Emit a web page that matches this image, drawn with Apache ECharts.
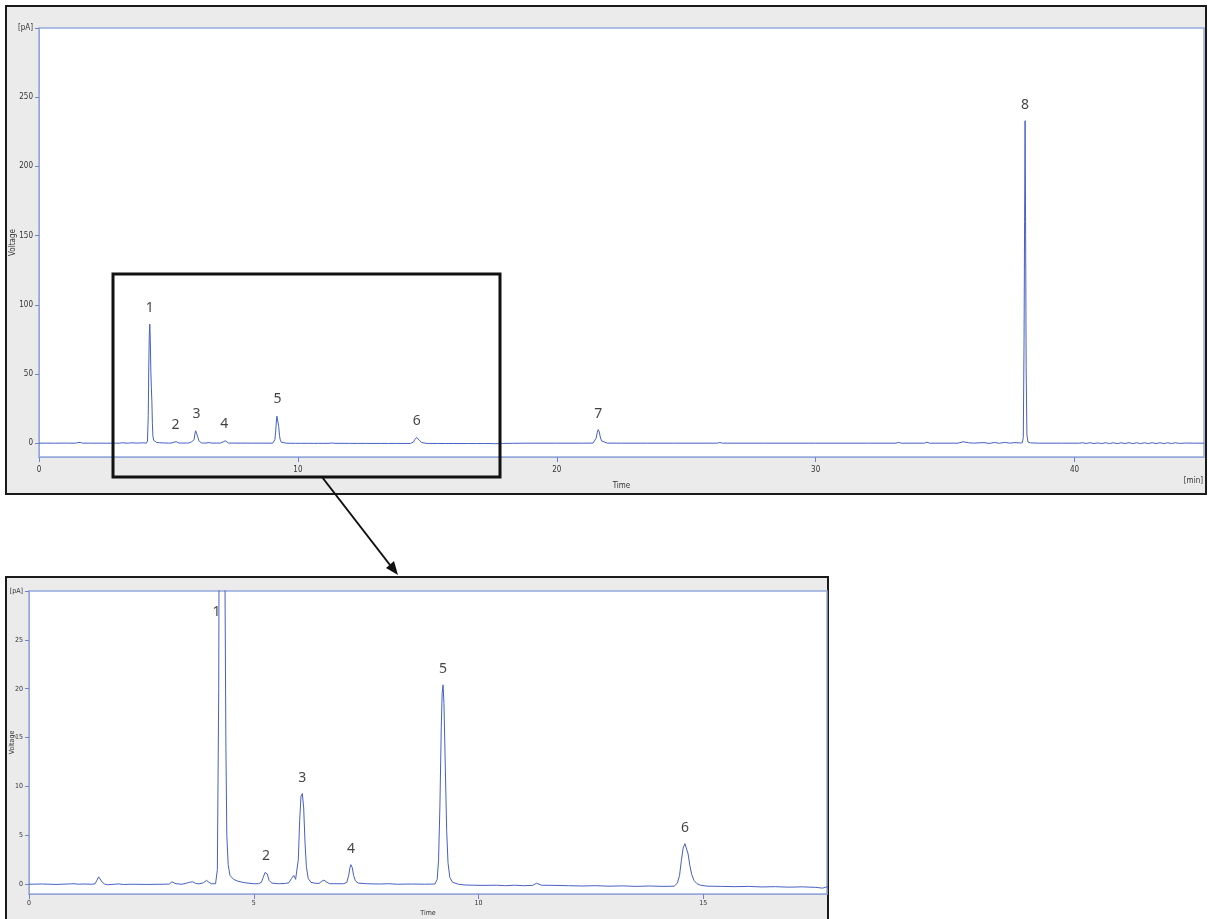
<!DOCTYPE html>
<html>
<head>
<meta charset="utf-8">
<title>Chromatogram</title>
<script src="https://cdn.jsdelivr.net/npm/echarts@6/dist/echarts.min.js"></script>
<style>
  html, body { margin: 0; padding: 0; background: #ffffff; }
  #chart { width: 1208px; height: 919px; }
</style>
</head>
<body>
<div id="chart"></div>
<script>
// Detector trace: [retention time (min), signal (pA)]
const trace = [
  [0.00, 0], [0.30, 0.02], [0.60, -0.02], [0.90, 0.03], [1.00, 0.05], [1.10, 0], [1.20, 0.02], [1.40, 0],
  [1.47, 0.05], [1.51, 0.4], [1.55, 0.75], [1.59, 0.55], [1.63, 0.2], [1.68, 0.02], [1.75, -0.05],
  [1.90, 0], [2.00, 0.03], [2.10, -0.03], [2.25, 0], [2.60, -0.02], [3.00, 0],
  [3.12, 0.02], [3.18, 0.25], [3.22, 0.3], [3.27, 0.05], [3.40, 0], [3.50, 0.1], [3.57, 0.2], [3.64, 0.25],
  [3.70, 0.1], [3.78, 0.03], [3.88, 0.15], [3.95, 0.4], [4.00, 0.2], [4.06, 0.05], [4.15, 0.05],
  [4.19, 1.5], [4.22, 20], [4.24, 55], [4.26, 78], [4.28, 86], [4.30, 74], [4.32, 52], [4.34, 40],
  [4.36, 30], [4.38, 14], [4.40, 5], [4.43, 2], [4.47, 0.9], [4.55, 0.5], [4.65, 0.3], [4.80, 0.15], [5.00, 0.05],
  [5.10, 0.05], [5.17, 0.2], [5.21, 0.7], [5.25, 1.2], [5.27, 1.3], [5.30, 1.05], [5.34, 0.4], [5.40, 0.12],
  [5.55, 0.05], [5.70, 0.08], [5.78, 0.15], [5.84, 0.6], [5.89, 0.9], [5.93, 0.5], [5.96, 0.4],
  [5.99, 2.5], [6.02, 6.5], [6.05, 9.0], [6.08, 9.28], [6.11, 7.8], [6.14, 4.2], [6.17, 1.8], [6.21, 0.6],
  [6.27, 0.2], [6.36, 0.1], [6.45, 0.08], [6.51, 0.3], [6.56, 0.42], [6.61, 0.25], [6.68, 0.06], [6.85, 0.05],
  [7.00, 0.05], [7.07, 0.2], [7.11, 0.9], [7.14, 1.7], [7.16, 2.0], [7.19, 1.7], [7.22, 0.9], [7.26, 0.35],
  [7.32, 0.12], [7.50, 0.05], [7.80, 0.02], [8.00, 0.05], [8.20, 0], [8.50, 0.02], [8.80, 0], [9.03, 0.02],
  [9.08, 0.5], [9.11, 2.5], [9.14, 8], [9.17, 16], [9.19, 19.5], [9.21, 20.4], [9.23, 18.5], [9.26, 12],
  [9.29, 5.5], [9.32, 2.2], [9.36, 0.7], [9.42, 0.2], [9.55, 0], [9.70, -0.08], [9.90, -0.1], [10.10, -0.12],
  [10.40, -0.1], [10.60, -0.15], [10.80, -0.1], [11.00, -0.15], [11.20, -0.12], [11.29, 0.1], [11.40, -0.1],
  [11.70, -0.12], [12.00, -0.15], [12.30, -0.18], [12.60, -0.15], [12.90, -0.2], [13.20, -0.17], [13.50, -0.22],
  [13.80, -0.18], [14.10, -0.22], [14.35, -0.2],
  [14.42, 0.1], [14.47, 0.9], [14.51, 2.4], [14.55, 3.7], [14.59, 4.15], [14.62, 4.0], [14.66, 3.1],
  [14.70, 1.9], [14.74, 1.0], [14.79, 0.4], [14.86, 0.05], [14.95, -0.12], [15.10, -0.2], [15.40, -0.22],
  [15.70, -0.25], [16.00, -0.22], [16.30, -0.28], [16.60, -0.25], [16.90, -0.3], [17.20, -0.27], [17.50, -0.32],
  [17.65, -0.4], [17.72, -0.3], [17.90, -0.2], [18.30, -0.1], [19.00, 0], [20.00, 0], [21.00, 0],
  [21.40, 0.05], [21.47, 0.8], [21.52, 3.5], [21.56, 7.5], [21.60, 9.8], [21.64, 8.2], [21.68, 4.5],
  [21.73, 1.6], [21.80, 0.4], [21.95, 0.05], [22.50, 0], [23.50, 0], [24.50, 0], [26.20, 0], [26.30, 0.5],
  [26.40, 0], [28.00, 0], [30.00, 0], [32.00, 0], [33.10, 0], [33.20, 0.6], [33.30, 0], [34.20, 0],
  [34.30, 0.7], [34.40, 0], [35.50, 0], [35.70, 1.0], [35.90, 0.3], [36.10, 0], [36.50, 0.4], [36.70, -0.2],
  [36.90, 0.5], [37.10, -0.1], [37.30, 0.6], [37.50, 0], [37.70, 0.4], [37.90, 0.1], [37.98, 0.3],
  [38.02, 4], [38.05, 75], [38.07, 160], [38.09, 233], [38.11, 150], [38.13, 55], [38.16, 6], [38.20, 0.8],
  [38.30, 0.2], [38.60, 0], [39.50, 0], [40.20, 0], [40.30, 0.3], [40.45, -0.2], [40.60, 0.3], [40.75, -0.25],
  [40.90, 0.2], [41.05, -0.3], [41.20, 0.35], [41.35, -0.3], [41.50, 0.3], [41.65, -0.35], [41.80, 0.3],
  [41.95, -0.3], [42.10, 0.35], [42.25, -0.3], [42.40, 0.3], [42.55, -0.35], [42.70, 0.3], [42.85, -0.3],
  [43.00, 0.35], [43.15, -0.3], [43.30, 0.3], [43.45, -0.3], [43.60, 0.3], [43.75, -0.25], [43.90, 0.3],
  [44.05, -0.2], [44.30, 0.1], [44.60, 0], [45.00, 0]
];

// Numbered peaks: label, retention time (min), apex height (pA)
const peakIds = ['1', '2', '3', '4', '5', '6', '7', '8'];
const peakTimes = [4.28, 5.27, 6.08, 7.16, 9.21, 14.59, 21.60, 38.09];
const peakHeights = [86, 1.3, 9.28, 2.0, 20.4, 4.15, 9.8, 233];

// Axis ticks of the full run and of the expanded 0-17.75 min view
const fullTimeTicks = [0, 10, 20, 30, 40];
const fullSignalTicks = [0, 50, 100, 150, 200, 250, 300];
const zoomTimeTicks = [0, 5, 10, 15];
const zoomSignalTicks = [0, 5, 10, 15, 20, 25, 30];
const fullRange = { tMin: 0, tMax: 45, sMin: -10, sMax: 300 };
const zoomRange = { tMin: 0, tMax: 17.75, sMin: -1, sMax: 30 };

const LINE = '#4660c4';
const FRAME_BLUE = '#97a8db';
const PANEL = '#ebebeb';
const TICK_FONT = '"Liberation Sans Narrow", "DejaVu Sans Condensed", "Liberation Sans", sans-serif';

function valueAxisY(gridIndex, range, ticks, fontSize, nameGap) {
  return {
    type: 'value', gridIndex: gridIndex, min: range.sMin, max: range.sMax,
    name: 'Voltage', nameLocation: 'middle', nameGap: nameGap, nameMoveOverlap: false,
    nameTextStyle: { fontFamily: TICK_FONT, fontSize: fontSize, color: '#333' },
    axisLine: { show: true, lineStyle: { color: FRAME_BLUE, width: 1 } },
    axisTick: { show: true, length: 4, lineStyle: { color: '#6e84cc' }, customValues: ticks },
    splitLine: { show: false },
    axisLabel: {
      customValues: ticks, margin: 6, fontFamily: TICK_FONT, fontSize: fontSize, color: '#333',
      formatter: function (v) { return v === range.sMax ? '[pA]' : String(v); }
    }
  };
}

function valueAxisX(gridIndex, range, ticks, fontSize, margin, nameGap) {
  return {
    type: 'value', gridIndex: gridIndex, min: range.tMin, max: range.tMax,
    name: 'Time', nameLocation: 'middle', nameGap: nameGap, nameMoveOverlap: false,
    nameTextStyle: { fontFamily: TICK_FONT, fontSize: fontSize, color: '#333' },
    axisLine: { show: true, onZero: false, lineStyle: { color: FRAME_BLUE, width: 1 } },
    axisTick: { show: true, length: 5, lineStyle: { color: '#6e84cc' }, customValues: ticks },
    splitLine: { show: false },
    axisLabel: { customValues: ticks, margin: margin, fontFamily: TICK_FONT, fontSize: fontSize, color: '#333' }
  };
}

function peakLabels(range) {
  return peakIds.map(function (id, i) {
    const t = peakTimes[i];
    const h = peakHeights[i];
    if (t > range.tMax) return null;
    if (h > range.sMax) {
      // apex runs off the top of the view: label sits beside the peak, below the frame
      return { value: [t, range.sMax], name: id,
        label: { position: 'bottom', distance: 14, offset: [-5, 0] } };
    }
    return { value: [t, h], name: id };
  }).filter(Boolean);
}

const labelStyle = {
  show: true, position: 'top', distance: 9,
  formatter: function (p) { return p.name; },
  fontFamily: '"Noto Sans", "Open Sans", sans-serif', fontSize: 14, color: '#111'
};

const chart = echarts.init(document.getElementById('chart'), null, { renderer: 'canvas' });

chart.setOption({
  animation: false,
  backgroundColor: '#ffffff',
  grid: [
    { left: 39, top: 28, width: 1165, height: 429, show: true, backgroundColor: '#ffffff',
      borderColor: FRAME_BLUE, borderWidth: 1.5, containLabel: false, outerBoundsMode: 'none' },
    { left: 29, top: 591, width: 798, height: 303, show: true, backgroundColor: '#ffffff',
      borderColor: FRAME_BLUE, borderWidth: 1.5, containLabel: false, outerBoundsMode: 'none' }
  ],
  xAxis: [
    valueAxisX(0, fullRange, fullTimeTicks, 8, 9, 25),
    valueAxisX(1, zoomRange, zoomTimeTicks, 7, 6, 16)
  ],
  yAxis: [
    valueAxisY(0, fullRange, fullSignalTicks, 8, 22),
    valueAxisY(1, zoomRange, zoomSignalTicks, 7, 13)
  ],
  series: [
    { type: 'line', xAxisIndex: 0, yAxisIndex: 0, data: trace, showSymbol: false, clip: true,
      lineStyle: { color: LINE, width: 1 }, z: 3 },
    { type: 'line', xAxisIndex: 1, yAxisIndex: 1, data: trace, showSymbol: false, clip: true,
      lineStyle: { color: LINE, width: 1 }, z: 3 },
    { type: 'scatter', xAxisIndex: 0, yAxisIndex: 0, data: peakLabels(fullRange), symbolSize: 0,
      clip: false, label: labelStyle, z: 5, silent: true },
    { type: 'scatter', xAxisIndex: 1, yAxisIndex: 1, data: peakLabels(zoomRange), symbolSize: 0,
      clip: false, label: labelStyle, z: 5, silent: true }
  ],
  graphic: [
    // panel frames
    { type: 'rect', z: -10, shape: { x: 6, y: 6, width: 1200, height: 488 },
      style: { fill: PANEL, stroke: '#1a1a1a', lineWidth: 2 } },
    { type: 'rect', z: -10, shape: { x: 6, y: 577, width: 822, height: 360 },
      style: { fill: PANEL, stroke: '#1a1a1a', lineWidth: 2 } },
    // unit of the time axis in the full-run panel
    { type: 'text', z: 10, x: 1203, y: 481,
      style: { text: '[min]', align: 'right', verticalAlign: 'middle', font: '8px ' + TICK_FONT, fill: '#333' } },
    // region expanded in the lower panel
    { type: 'rect', z: 100, shape: { x: 113, y: 274, width: 387, height: 203 },
      style: { fill: 'none', stroke: '#111', lineWidth: 3 } },
    // arrow pointing to the expanded view
    { type: 'line', z: 100, shape: { x1: 322, y1: 477, x2: 390, y2: 565 },
      style: { stroke: '#111', lineWidth: 2 } },
    { type: 'polygon', z: 100, shape: { points: [[398, 575], [386, 568], [394, 561]] },
      style: { fill: '#111' } }
  ]
});
</script>
</body>
</html>
